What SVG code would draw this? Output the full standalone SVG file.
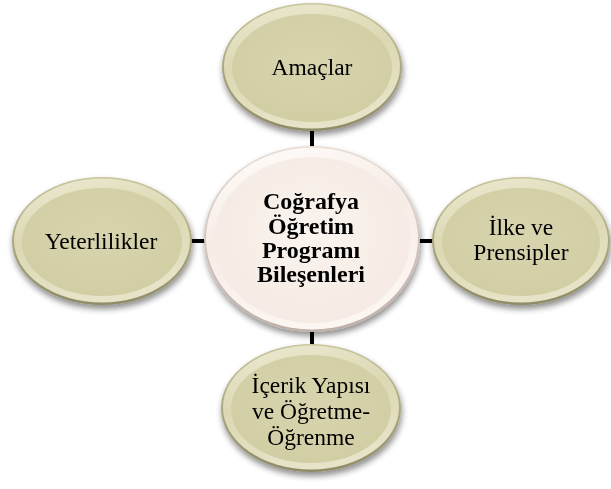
<svg xmlns="http://www.w3.org/2000/svg" width="611" height="489" viewBox="0 0 611 489">
<defs>
<filter id="sh" x="-20%" y="-20%" width="140%" height="150%">
<feGaussianBlur in="SourceAlpha" stdDeviation="3"/>
<feOffset dx="1" dy="4" result="b"/>
<feComponentTransfer><feFuncA type="linear" slope="0.45"/></feComponentTransfer>
<feMerge><feMergeNode/><feMergeNode in="SourceGraphic"/></feMerge>
</filter>
<linearGradient id="edgeK" x1="0" y1="0" x2="0" y2="1">
<stop offset="0" stop-color="#c9c59c"/>
<stop offset="1" stop-color="#8f8b68"/>
</linearGradient>
<linearGradient id="rimK" x1="0" y1="0" x2="0.3" y2="1">
<stop offset="0" stop-color="#ecead2"/>
<stop offset="0.5" stop-color="#dcd8b3"/>
<stop offset="1" stop-color="#e6e3c8"/>
</linearGradient>
<radialGradient id="faceK" cx="0.5" cy="0.45" r="0.6">
<stop offset="0" stop-color="#d8d4ae"/>
<stop offset="1" stop-color="#d1cda3"/>
</radialGradient>
<linearGradient id="edgeC" x1="0" y1="0" x2="0" y2="1">
<stop offset="0" stop-color="#e8dcd5"/>
<stop offset="1" stop-color="#bfb0a8"/>
</linearGradient>
<linearGradient id="rimC" x1="0" y1="0" x2="0.3" y2="1">
<stop offset="0" stop-color="#fffdfb"/>
<stop offset="0.5" stop-color="#f6ece6"/>
<stop offset="1" stop-color="#fcf6f2"/>
</linearGradient>
<radialGradient id="faceC" cx="0.5" cy="0.45" r="0.6">
<stop offset="0" stop-color="#faf3ee"/>
<stop offset="1" stop-color="#f5eae3"/>
</radialGradient>
</defs>
<style>
.ok{fill:url(#edgeK)}
.rk{fill:url(#rimK)}
.fk{fill:url(#faceK)}
.oc{fill:url(#edgeC)}
.rc{fill:url(#rimC)}
.fc{fill:url(#faceC)}
text{font-family:"Liberation Serif","Times New Roman",serif;font-size:23.5px;fill:#000;text-anchor:middle}
.b{font-weight:bold;font-size:24px}
.cn line{stroke:#000;stroke-width:4}
</style>
<rect width="611" height="489" fill="#fff"/>
<g class="cn">
<line x1="312" y1="128" x2="312" y2="150"/>
<line x1="188" y1="241" x2="208" y2="241"/>
<line x1="416" y1="241" x2="434" y2="241"/>
<line x1="312" y1="328" x2="312" y2="350"/>
</g>
<g id="amaclar" filter="url(#sh)">
<ellipse class="ok" cx="312" cy="67" rx="90" ry="64"/>
<ellipse class="rk" cx="312" cy="66.5" rx="88" ry="62"/>
<ellipse class="fk" cx="312" cy="68" rx="80" ry="54"/>
<text x="312" y="75">Amaçlar</text>
</g>
<g id="yeterlilikler" filter="url(#sh)">
<ellipse class="ok" cx="102" cy="241" rx="90" ry="64"/>
<ellipse class="rk" cx="102" cy="240.5" rx="88" ry="62"/>
<ellipse class="fk" cx="102" cy="242" rx="80" ry="54"/>
<text x="101" y="249">Yeterlilikler</text>
</g>
<g id="ilke" filter="url(#sh)">
<ellipse class="ok" cx="521" cy="241" rx="89" ry="64"/>
<ellipse class="rk" cx="521" cy="240.5" rx="87" ry="62"/>
<ellipse class="fk" cx="521" cy="242" rx="79" ry="54"/>
<text x="521" y="235">İlke ve</text>
<text x="521" y="260">Prensipler</text>
</g>
<g id="icerik" filter="url(#sh)">
<ellipse class="ok" cx="311" cy="408" rx="90" ry="64"/>
<ellipse class="rk" cx="311" cy="407.5" rx="88" ry="62"/>
<ellipse class="fk" cx="311" cy="409" rx="80" ry="54"/>
<text x="311" y="393">İçerik Yapısı</text>
<text x="311" y="419">ve Öğretme-</text>
<text x="311" y="445">Öğrenme</text>
</g>
<g id="merkez" filter="url(#sh)">
<ellipse class="oc" cx="312" cy="239" rx="108" ry="93"/>
<ellipse class="rc" cx="312" cy="238.5" rx="106" ry="91"/>
<ellipse class="fc" cx="312" cy="240" rx="98" ry="83"/>
<text class="b" x="311" y="209">Coğrafya</text>
<text class="b" x="311" y="233.5">Öğretim</text>
<text class="b" x="311" y="257.5">Programı</text>
<text class="b" x="311" y="281.5">Bileşenleri</text>
</g>
</svg>
